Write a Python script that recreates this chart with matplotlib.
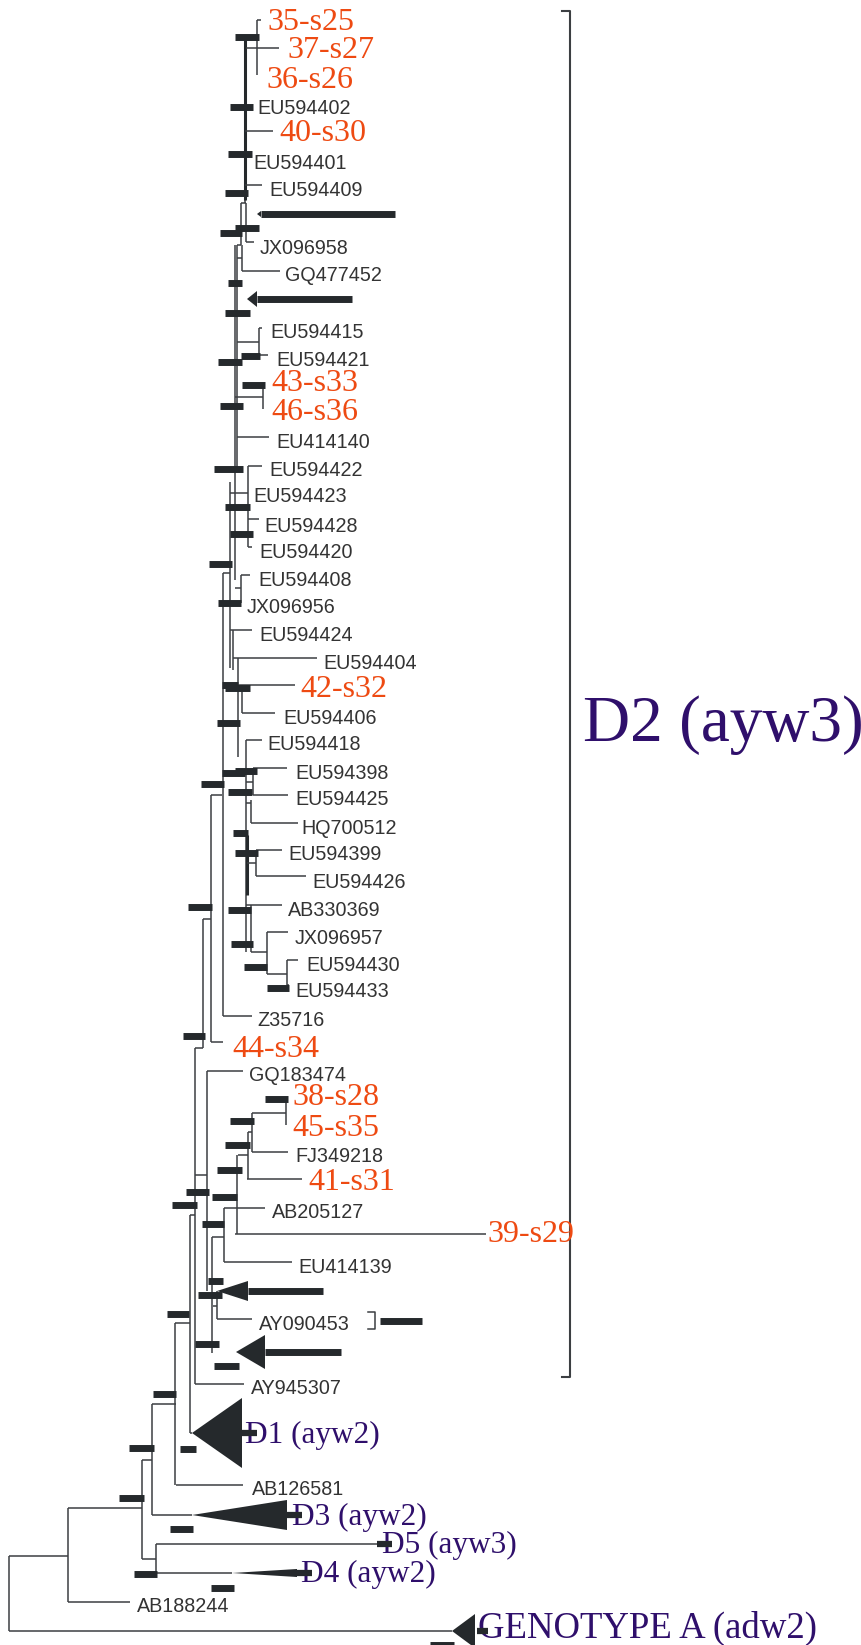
import matplotlib
matplotlib.use("Agg")
import matplotlib.pyplot as plt
from matplotlib.patches import Polygon

# coordinates (pixel space of the 861x1645 figure)
# leaves: name, branch start x, branch end x, y, label x, label y
sample_names = ["35-s25", "37-s27", "36-s26", "40-s30", "43-s33", "46-s36",
                "42-s32", "44-s34", "38-s28", "45-s35", "41-s31", "39-s29"]
sample_x0 = [257, 246, 257, 245, 263, 263, 242, 211, 286, 286, 247, 235]
sample_x1 = [261, 279, 257, 273, 263, 263, 295, 223, 286, 286, 302, 486]
sample_y = [20, 48, 75, 131, 385, 409, 685, 1042, 1099, 1125, 1179, 1234]
sample_lx = [267, 287, 266, 279, 271, 271, 300, 232, 292, 292, 308, 487]
sample_ly = [20, 48, 78, 131, 381, 410, 687, 1047, 1095, 1126, 1180, 1232]

ref_names = ["EU594402", "EU594401", "EU594409", "JX096958", "GQ477452",
             "EU594415", "EU594421", "EU414140", "EU594422", "EU594423",
             "EU594428", "EU594420", "EU594408", "JX096956", "EU594424",
             "EU594404", "EU594406", "EU594418", "EU594398", "EU594425",
             "HQ700512", "EU594399", "EU594426", "AB330369", "JX096957",
             "EU594430", "EU594433", "Z35716", "GQ183474", "FJ349218",
             "AB205127", "EU414139", "AY090453", "AY945307", "AB126581",
             "AB188244"]
ref_x0 = [245, 245, 245, 246, 242, 259, 259, 237, 248, 248, 248, 248, 241, 241,
          233, 238, 242, 246, 253, 253, 251, 256, 256, 251, 267, 287, 287, 223,
          207, 252, 237, 224, 217, 195, 176, 68]
ref_x1 = [250, 245, 262, 254, 280, 262, 268, 269, 262, 248, 259, 252, 250, 241,
          252, 317, 275, 262, 287, 288, 298, 282, 306, 282, 288, 298, 289, 252,
          243, 288, 265, 292, 252, 244, 243, 130]
ref_y = [107, 158, 185, 242, 271, 328, 355, 437, 466, 493, 519, 547, 575, 603,
         630, 658, 713, 740, 768, 795, 823, 850, 876, 905, 932, 960, 985, 1016,
         1071, 1152, 1208, 1262, 1319, 1384, 1485, 1602]
ref_lx = [257, 253, 269, 260, 285, 270, 276, 276, 269, 253, 264, 259, 258, 247,
          259, 323, 283, 267, 295, 295, 301, 288, 312, 288, 295, 306, 295, 257,
          249, 295, 272, 298, 259, 251, 252, 137]
ref_ly = [107, 162, 189, 247, 274, 331, 359, 441, 469, 495, 525, 551, 579, 606,
          634, 662, 717, 743, 772, 798, 827, 853, 881, 909, 937, 964, 990, 1019,
          1074, 1155, 1211, 1266, 1323, 1387, 1488, 1605]

# internal vertical connectors: x, y top, y bottom
vert_x = [257, 245, 241, 246, 237, 242, 259, 263, 235, 248, 230, 223, 241, 233,
          238, 242, 246, 253, 251, 256, 251, 267, 287, 211, 203, 207, 286, 252,
          248, 237, 224, 212, 217, 195, 190, 175, 152, 142, 156, 68, 9]
vert_y0 = [20, 48, 203, 203, 245, 245, 328, 385, 245, 466, 482, 573, 575, 630,
           658, 685, 740, 768, 800, 850, 905, 932, 960, 795, 919, 1071, 1099,
           1113, 1132, 1155, 1208, 1237, 1291, 1048, 1215, 1323, 1404, 1460,
           1544, 1508, 1556]
vert_y1 = [75, 203, 245, 242, 470, 271, 355, 409, 580, 547, 668, 1016, 603, 670,
           757, 713, 952, 795, 823, 876, 952, 974, 985, 1042, 1048, 1291, 1125,
           1152, 1179, 1234, 1262, 1353, 1319, 1384, 1433, 1485, 1515, 1559,
           1573, 1602, 1631]

# internal horizontal connectors: x start, x end, y
link_x0 = [241, 237, 237, 237, 235, 230, 223, 235, 230, 233, 238, 246, 246, 247,
           246, 251, 267, 222, 203, 195, 195, 252, 248, 238, 224, 212, 213, 190,
           175, 152, 142, 142, 68, 9]
link_x1 = [246, 241, 242, 259, 263, 248, 230, 241, 233, 238, 242, 253, 251, 256,
           251, 267, 287, 211, 211, 203, 207, 286, 252, 248, 237, 224, 217, 195,
           190, 176, 152, 156, 142, 68]
link_y = [203, 245, 258, 342, 397, 493, 573, 588, 630, 658, 685, 782, 803, 863,
          905, 952, 974, 795, 919, 1048, 1175, 1113, 1132, 1155, 1208, 1237,
          1306, 1215, 1323, 1404, 1460, 1559, 1508, 1556]

# thicker stretches of the spine
spine_x = [245, 247]
spine_y0 = [40, 835]
spine_y1 = [200, 895]

# posterior interval bars: x start, x end, y
hpd_x0 = [235, 230, 228, 225, 235, 220, 228, 225, 241, 218, 242, 220, 214, 225,
          230, 209, 218, 222, 225, 217, 222, 235, 201, 228, 233, 235, 188, 228,
          231, 244, 267, 183, 265, 230, 225, 217, 186, 212, 172, 202, 208, 198,
          167, 195, 214, 153, 129, 180, 119, 170, 134, 211, 430]
hpd_x1 = [259, 253, 252, 248, 259, 242, 242, 250, 260, 242, 265, 243, 243, 250,
          253, 232, 241, 238, 250, 240, 245, 257, 224, 252, 248, 258, 212, 251,
          253, 267, 289, 205, 288, 254, 250, 242, 209, 237, 197, 224, 223, 222,
          189, 219, 239, 176, 154, 196, 144, 193, 157, 234, 454]
hpd_y = [37, 107, 154, 193, 228, 233, 283, 313, 356, 362, 385, 406, 469, 507,
         534, 564, 603, 685, 688, 723, 773, 771, 784, 792, 833, 853, 907, 910,
         944, 967, 988, 1036, 1099, 1121, 1145, 1170, 1192, 1197, 1205, 1224,
         1281, 1295, 1314, 1344, 1366, 1394, 1448, 1449, 1498, 1529, 1574, 1588,
         1645]

# unlabeled collapsed tips drawn as arrows: tip x, base x, y, half height, bar end
arrow_tip = [257, 247, 217, 236]
arrow_base = [261, 257, 248, 265]
arrow_y = [214, 299, 1291, 1352]
arrow_half = [3, 8, 10, 17]
arrow_end = [395, 352, 323, 341]

# collapsed subgenotype clades
clade_names = ["D1 (ayw2)", "D3 (ayw2)", "D5 (ayw3)", "D4 (ayw2)",
               "GENOTYPE A (adw2)"]
clade_x0 = [190, 152, 156, 156, 9]
clade_tip = [192, 192, 382, 232, 452]
clade_base = [242, 287, 382, 297, 475]
clade_y = [1433, 1515, 1544, 1573, 1631]
clade_half = [35, 15, 0, 4, 17]
clade_bar = [(242, 257), (287, 302), (377, 392), (297, 312), (477, 488)]
clade_lx = [245, 292, 382, 301, 478]
clade_base_y = [1443, 1525, 1553, 1582, 1638]
clade_size = [22.5, 22.5, 22.5, 22.5, 26.5]

line_c = "#3c3f42"
bar_c = "#25292c"
red = "#ee4a12"
purple = "#2f0f6b"
serif = "Liberation Serif"
sans = "Liberation Sans"

fig = plt.figure(figsize=(8.61, 16.45), dpi=100)
ax = fig.add_axes([0, 0, 1, 1])
ax.set_xlim(0, 861)
ax.set_ylim(1645, 0)
ax.axis("off")

lw = 1.1
ax.vlines(vert_x, vert_y0, vert_y1, color=line_c, lw=lw)
ax.vlines(spine_x, spine_y0, spine_y1, color=bar_c, lw=2.2)
ax.hlines(link_y, link_x0, link_x1, color=line_c, lw=lw)
ax.hlines(sample_y, sample_x0, sample_x1, color=line_c, lw=lw)
ax.hlines(ref_y, ref_x0, ref_x1, color=line_c, lw=lw)
ax.hlines(clade_y, clade_x0, clade_tip, color=line_c, lw=lw)

for name, x, y in zip(sample_names, sample_lx, sample_ly):
    ax.text(x, y + 10, name, color=red, fontsize=23, family=serif, va="baseline")
for name, x, y in zip(ref_names, ref_lx, ref_ly):
    ax.text(x, y + 7, name, color="#333333", fontsize=14.2, family=sans,
            va="baseline")

for t, b, y, h, e in zip(arrow_tip, arrow_base, arrow_y, arrow_half, arrow_end):
    ax.add_patch(Polygon([(t, y), (b, y - h), (b, y + h)], closed=True,
                         color=bar_c, lw=0, zorder=3))
    ax.hlines(y, b, e, color=bar_c, lw=5, zorder=3)

for i, name in enumerate(clade_names):
    y = clade_y[i]
    if clade_half[i] > 0:
        ax.add_patch(Polygon([(clade_tip[i], y), (clade_base[i], y - clade_half[i]),
                              (clade_base[i], y + clade_half[i])], closed=True,
                             color=bar_c, lw=0, zorder=3))
    ax.text(clade_lx[i], clade_base_y[i], name, color=purple,
            fontsize=clade_size[i], family=serif, va="baseline", zorder=4)
    ax.hlines(y, clade_bar[i][0], clade_bar[i][1], color=bar_c, lw=4.5, zorder=5)

ax.hlines(hpd_y, hpd_x0, hpd_x1, color=bar_c, lw=5, zorder=5)

# small bracket beside AY090453
ax.plot([368, 375, 375, 368], [1312, 1312, 1329, 1329], color=line_c, lw=1.1)
ax.hlines(1321, 380, 422, color=bar_c, lw=5)

# D2 bracket and label
ax.plot([562, 570, 570, 562], [11, 11, 1377, 1377], color=line_c, lw=1.5)
ax.text(583, 741, "D2 (ayw3)", color=purple, fontsize=47, family=serif,
        va="baseline")

fig.savefig("out.png", dpi=100)
